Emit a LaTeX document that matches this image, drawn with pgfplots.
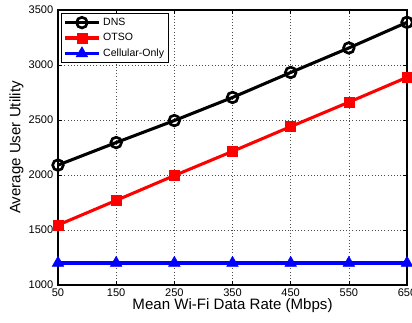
\documentclass[border=0pt]{standalone}
\usepackage{pgfplots}
\pgfplotsset{compat=1.18}
\usepackage{fontspec}
\setmainfont{Liberation Sans}
\begin{document}
\begin{tikzpicture}
\begin{axis}[name=ax,
  width=261.75pt, height=206.25pt, scale only axis,
  xmin=50, xmax=650, ymin=1000, ymax=3500,
  xtick={50,150,250,350,450,550,650},
  ytick={1000,1500,2000,2500,3000,3500},
  tick align=inside, major tick length=3pt,
  tick style={black, line width=0.4pt},
  axis line style={black, line width=0.8pt},
  grid=major, grid style={dotted, black!70, line width=0.4pt},
  /pgf/number format/assume math mode=true,
  /pgf/number format/1000 sep={},
  tick label style={font=\fontsize{8.3}{9}\selectfont},
  xticklabel style={yshift=1pt},
  xlabel={Mean Wi-Fi Data Rate (Mbps)},
  ylabel={Average User Utility},
  label style={font=\fontsize{11.3}{12}\selectfont},
  xlabel style={yshift=5pt},
  ylabel style={yshift=-3pt},
  legend style={at={(0.008,0.99)}, anchor=north west, draw=black, line width=0.8pt,
    font=\fontsize{7.9}{8.5}\selectfont, inner sep=1.5pt, row sep=0.5pt},
  legend cell align=left,
  legend image code/.code={\draw[#1] (0cm,0cm) -- (0.9cm,0cm); \path[#1, mark repeat=2, mark phase=2] plot coordinates {(0cm,0cm) (0.45cm,0cm) (0.9cm,0cm)};},
]
\addplot[black, line width=2.3pt, mark=o, mark size=4pt, mark options={line width=2pt}] coordinates {
(50,2090) (150,2295) (250,2495) (350,2705) (450,2932) (550,3155) (650,3388)};
\addlegendentry{DNS}
\addplot[red, line width=2.3pt, mark=square*, mark size=3.7pt, mark options={line width=0.4pt}] coordinates {
(50,1545) (150,1769) (250,1995) (350,2215) (450,2440) (550,2662) (650,2888)};
\addlegendentry{OTSO}
\addplot[blue, line width=2.3pt, mark=triangle*, mark size=5pt, mark options={line width=0.4pt}] coordinates {
(50,1200) (150,1200) (250,1200) (350,1200) (450,1200) (550,1200) (650,1200)};
\addlegendentry{Cellular-Only}
\end{axis}
\pgfresetboundingbox
\path ([shift={(-43.5pt,-27.75pt)}]ax.south west) rectangle ([shift={(3.75pt,7.5pt)}]ax.north east);
\end{tikzpicture}
\end{document}
